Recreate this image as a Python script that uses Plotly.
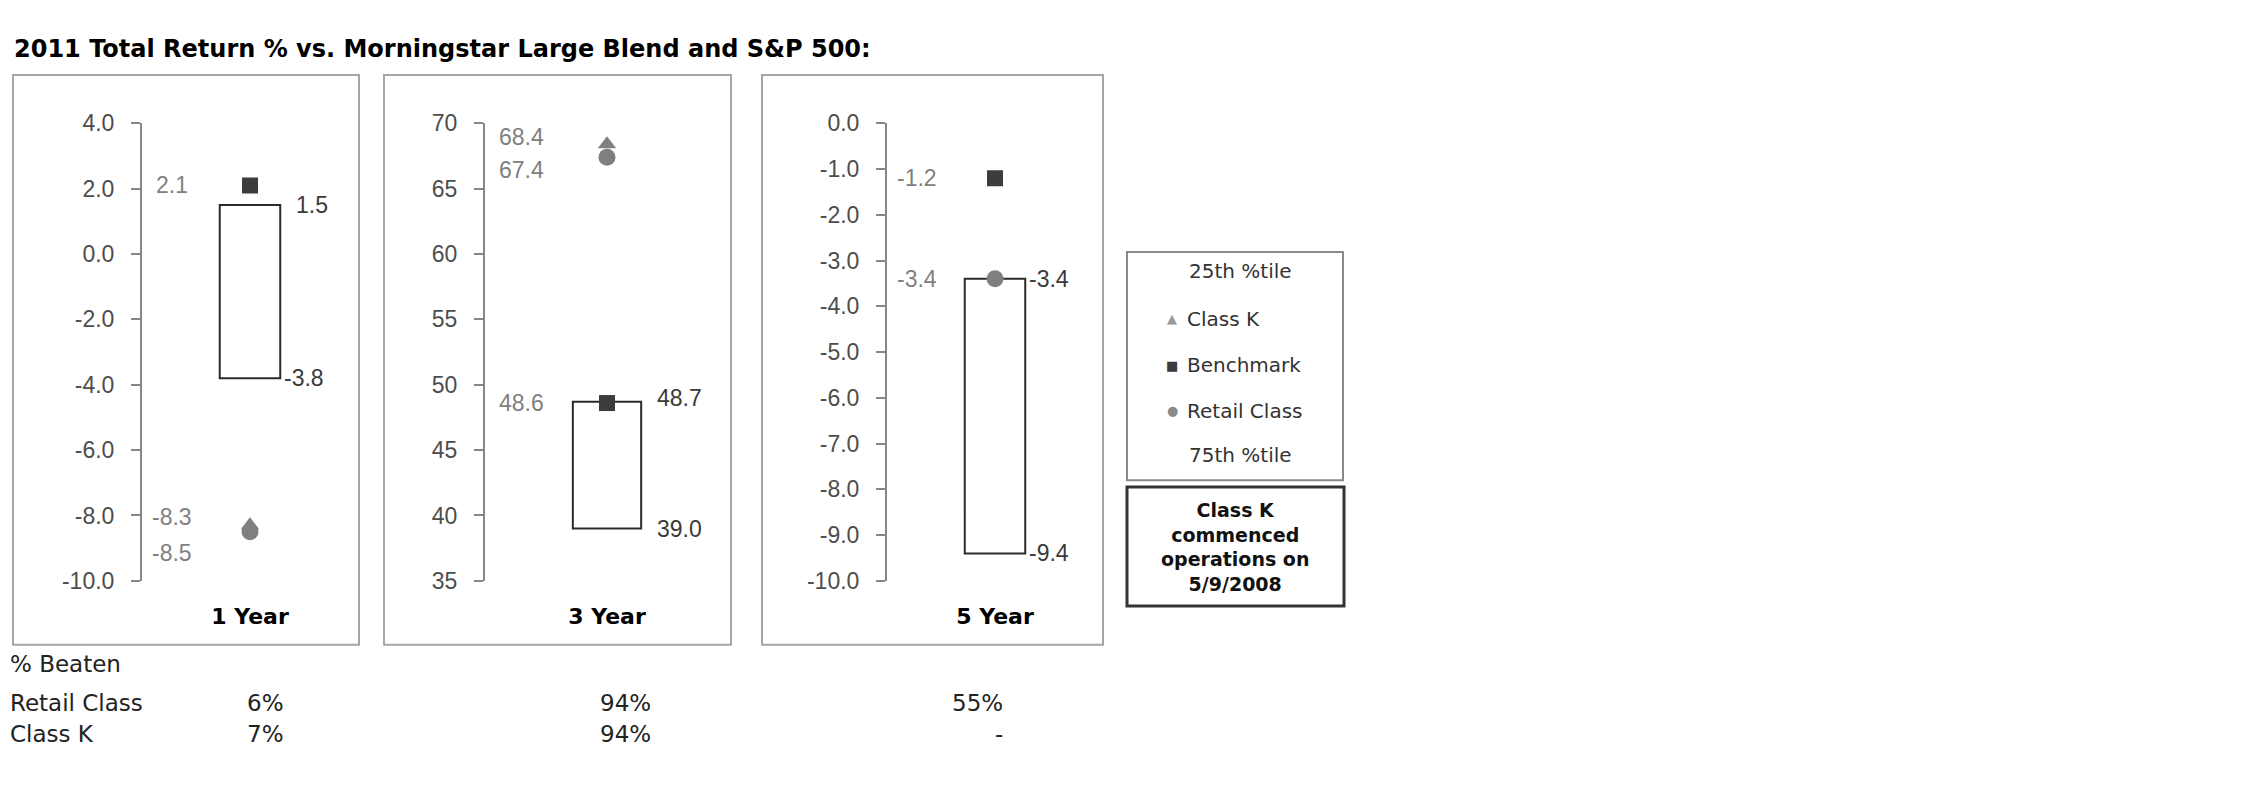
import plotly.graph_objects as go

W, H = 2250, 796

# ---------------- data ----------------
periods = ["1 Year", "3 Year", "5 Year"]
pct25 = [1.5, 48.7, -3.4]          # 25th %tile (top of box)
pct75 = [-3.8, 39.0, -9.4]         # 75th %tile (bottom of box)
class_k = [-8.3, 68.4, None]
benchmark = [2.1, 48.6, -1.2]
retail = [-8.5, 67.4, -3.4]

y_ranges = [(-10, 4), (35, 70), (-10, 0)]
y_ticks = [
    [4, 2, 0, -2, -4, -6, -8, -10],
    [70, 65, 60, 55, 50, 45, 40, 35],
    [0, -1, -2, -3, -4, -5, -6, -7, -8, -9, -10],
]
tick_fmt = ["{:.1f}", "{:.0f}", "{:.1f}"]

beaten_header = "% Beaten"
beaten_rows = ["Retail Class", "Class K"]
beaten_retail = ["6%", "94%", "55%"]
beaten_classk = ["7%", "94%", "-"]

legend_labels = ["25th %tile", "Class K", "Benchmark", "Retail Class", "75th %tile"]
note_lines = ["Class K", "commenced", "operations on", "5/9/2008"]
title_text = "2011 Total Return % vs. Morningstar Large Blend and S&P 500:"

# ---------------- layout helpers ----------------
def px(x):
    return x / W

def py(y):
    return 1 - y / H

axis_left = [142, 485, 887]
axis_right = [358, 729, 1103]
plot_top, plot_bottom = 114, 587
frames = [(13, 64, 359, 653), (384, 64, 731, 653), (762, 64, 1103, 653)]
left_shift = [-78, -86, -78]
bar_w = 0.28
# vertical nudges for labels that would overlap (px, up positive)
nudge_k = [8, 7, 0]
nudge_r = [-21, -13, 0]
nudge_25 = [0, 4, 0]

TICK_FONT = "Liberation Sans, Arial, sans-serif"
VERD = "DejaVu Sans, Verdana, sans-serif"

fig = go.Figure()
annotations = []
shapes = []

for i, name in enumerate(periods):
    sx = "" if i == 0 else str(i + 1)
    xa, ya = "x" + sx, "y" + sx
    # box (25th - 75th)
    fig.add_trace(go.Bar(
        x=[name], y=[pct25[i] - pct75[i]], base=[pct75[i]], width=bar_w,
        marker=dict(color="white", line=dict(color="#2b2b2b", width=2)),
        xaxis=xa, yaxis=ya, showlegend=False, hoverinfo="skip"))
    if class_k[i] is not None:
        fig.add_trace(go.Scatter(
            x=[name], y=[class_k[i]], mode="markers",
            marker=dict(symbol="triangle-up", size=16, color="#808080"),
            xaxis=xa, yaxis=ya, showlegend=False))
    fig.add_trace(go.Scatter(
        x=[name], y=[retail[i]], mode="markers",
        marker=dict(symbol="circle", size=17, color="#7f7f7f"),
        xaxis=xa, yaxis=ya, showlegend=False))
    fig.add_trace(go.Scatter(
        x=[name], y=[benchmark[i]], mode="markers",
        marker=dict(symbol="square", size=16, color="#3c3c3c"),
        xaxis=xa, yaxis=ya, showlegend=False))

    dom_x = [px(axis_left[i]), px(axis_right[i])]
    dom_y = [py(plot_bottom), py(plot_top)]
    fig.update_layout(**{
        ("xaxis" + sx): dict(
            domain=dom_x, anchor=ya, type="category", range=[-0.5, 0.5],
            showline=False, showgrid=False, zeroline=False, ticks="",
            tickfont=dict(family=VERD, size=22, color="#000000", weight="bold"),
            ticklabelstandoff=20, fixedrange=True),
        ("yaxis" + sx): dict(
            domain=dom_y, anchor=xa, range=list(y_ranges[i]),
            tickvals=y_ticks[i], ticktext=[tick_fmt[i].format(v) for v in y_ticks[i]],
            showline=True, linecolor="#868686", linewidth=2,
            ticks="outside", ticklen=9, tickwidth=2, tickcolor="#868686",
            showgrid=False, zeroline=False, ticklabelstandoff=12,
            tickfont=dict(family=TICK_FONT, size=23, color="#4d4d4d"), fixedrange=True),
    })

    # left labels (Class K, Retail, Benchmark)
    left_items = [(class_k[i], nudge_k[i]), (retail[i], nudge_r[i]), (benchmark[i], 0)]
    for v, dy in left_items:
        if v is None:
            continue
        annotations.append(dict(
            x=0, y=v, xref=xa, yref=ya, text="{:.1f}".format(v), showarrow=False,
            xanchor="center", yanchor="middle", xshift=left_shift[i], yshift=dy,
            font=dict(family=TICK_FONT, size=23, color="#808080")))
    # right labels (percentiles)
    for v, dy in [(pct25[i], nudge_25[i]), (pct75[i], 0)]:
        annotations.append(dict(
            x=bar_w / 2, y=v, xref=xa, yref=ya, text="{:.1f}".format(v), showarrow=False,
            xanchor="left", yanchor="middle", xshift=(14 if v >= 0 else 2), yshift=dy,
            font=dict(family=TICK_FONT, size=23, color="#3a3a3a")))

    x0, y0, x1, y1 = frames[i]
    shapes.append(dict(type="rect", xref="paper", yref="paper",
                       x0=px(x0), x1=px(x1), y0=py(y1), y1=py(y0),
                       line=dict(color="#a6a6a6", width=2), fillcolor="rgba(0,0,0,0)"))

# title
annotations.append(dict(x=px(12), y=py(37), xref="paper", yref="paper",
                        text="<b>" + title_text + "</b>", showarrow=False,
                        xanchor="left", yanchor="middle",
                        font=dict(family=VERD, size=24, color="#000000")))

# % Beaten table
annotations.append(dict(x=px(8), y=py(673), xref="paper", yref="paper", text=beaten_header,
                        showarrow=False, xanchor="left", yanchor="middle",
                        font=dict(family=VERD, size=23, color="#222222")))
val_right = [286, 653, 1005]
for r, (row, vals) in enumerate(zip(beaten_rows, [beaten_retail, beaten_classk])):
    yy = [713, 745][r]
    annotations.append(dict(x=px(8), y=py(yy), xref="paper", yref="paper", text=row,
                            showarrow=False, xanchor="left", yanchor="middle",
                            font=dict(family=VERD, size=23, color="#222222")))
    for j, v in enumerate(vals):
        annotations.append(dict(x=px(val_right[j]), y=py(yy), xref="paper", yref="paper",
                                text=v, showarrow=False, xanchor="right", yanchor="middle",
                                font=dict(family=VERD, size=23, color="#222222")))

# legend box
shapes.append(dict(type="rect", xref="paper", yref="paper",
                   x0=px(1127), x1=px(1343), y0=py(483), y1=py(247),
                   line=dict(color="#8a8a8a", width=2), fillcolor="white"))
leg_y = [267, 316, 364, 411, 457]
leg_sym = [None, ("▲", "#9a9a9a"), ("■", "#3c3c3c"), ("●", "#8a8a8a"), None]
for k, lab in enumerate(legend_labels):
    if leg_sym[k] is None:
        annotations.append(dict(x=px(1240), y=py(leg_y[k]), xref="paper", yref="paper",
                                text=lab, showarrow=False, xanchor="center", yanchor="middle",
                                font=dict(family=VERD, size=20, color="#333333")))
    else:
        annotations.append(dict(x=px(1172), y=py(leg_y[k]), xref="paper", yref="paper",
                                text=leg_sym[k][0], showarrow=False, xanchor="center",
                                yanchor="middle",
                                font=dict(family=VERD, size=13, color=leg_sym[k][1])))
        annotations.append(dict(x=px(1185), y=py(leg_y[k]), xref="paper", yref="paper",
                                text=lab, showarrow=False, xanchor="left", yanchor="middle",
                                font=dict(family=VERD, size=20, color="#333333")))

# note box
shapes.append(dict(type="rect", xref="paper", yref="paper",
                   x0=px(1127), x1=px(1344), y0=py(613), y1=py(490),
                   line=dict(color="#333333", width=3), fillcolor="white"))
annotations.append(dict(x=px(1235), y=py(552), xref="paper", yref="paper",
                        text="<b>" + "<br>".join(note_lines) + "</b>", showarrow=False,
                        xanchor="center", yanchor="middle", align="center",
                        font=dict(family=VERD, size=19, color="#111111")))

fig.update_layout(
    width=W, height=H, margin=dict(l=0, r=0, t=0, b=0),
    paper_bgcolor="white", plot_bgcolor="rgba(0,0,0,0)",
    showlegend=False, annotations=annotations, shapes=shapes, barmode="overlay",
)

fig.write_html("out.html", config={"displayModeBar": False})
